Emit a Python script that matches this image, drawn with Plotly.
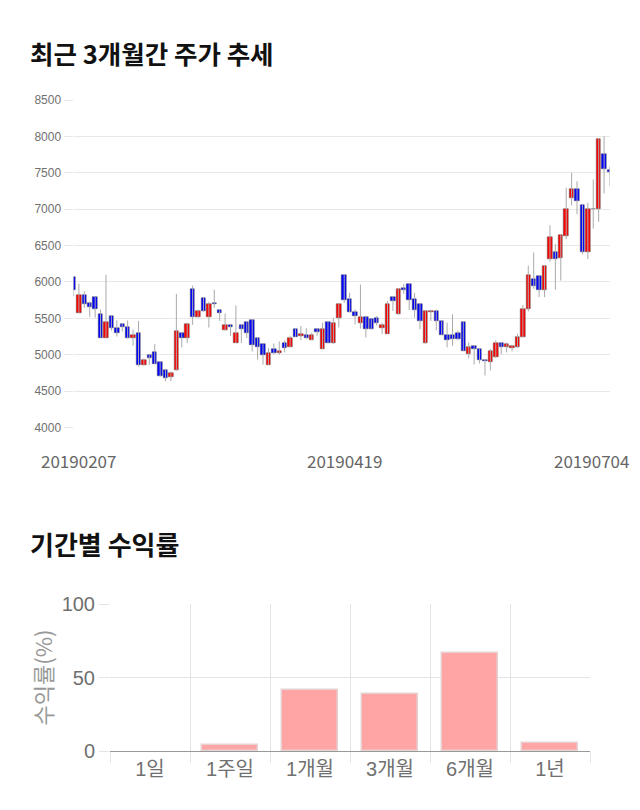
import plotly.graph_objects as go

# ---- candlestick data (index 0 = 20190207) ----
opens = [6070,5577,5814,5705,5795,5564,5236,5536,5373,5418,5382,5236,5305,4855,4995,5041,4905,4791,4700,4791,
         5305,5227,5905,5523,5782,5523,5705,5618,5336,5409,5164,5409,5455,5473,5236,5141,4864,5073,5027,5168,
         5109,5359,5255,5268,5205,5359,5077,5455,5155,5509,6100,5759,5586,5441,5518,5486,5509,5373,5291,5795,
         5555,5918,5973,5759,5700,5155,5591,5600,5464,5268,5268,5295,5455,5009,5118,5073,4932,4895,4964,5159,
         5109,5086,5100,5244,5622,6041,6078,5891,6315,6406,6324,6634,7148,7280,7053,6406,6998,6998,7763,7545]
highs = [6070,5977,5873,5730,5800,5620,6100,5536,5470,5430,5470,5345,5464,4950,5000,5145,4910,4800,4770,5836,
         5305,5440,5950,5620,5790,5727,5895,5620,5564,5415,5677,5410,5460,5480,5240,5145,5091,5155,5182,5200,
         5259,5360,5395,5364,5305,5365,5441,5460,5509,5700,6100,5850,5623,5964,5520,5490,5532,5441,5736,5800,
         5910,5973,5975,5850,5700,5610,5618,5618,5470,5441,5555,5330,5460,5168,5130,5080,4935,5077,5200,5160,
         5168,5130,5290,5686,6224,6406,6080,6220,6779,6520,6650,7294,7499,7385,7055,7089,7408,7970,8000,7590]
lows = [5800,5570,5645,5520,5510,5236,5236,5330,5250,5320,5220,5125,4840,4850,4860,4870,4700,4636,4636,4780,
        5100,5160,5410,5510,5590,5373,5645,5464,5330,5260,5160,5160,5230,5045,4932,4864,4860,5005,5000,5032,
        5105,5245,5200,5220,5200,5259,5075,5160,5150,5373,5714,5580,5418,5359,5236,5345,5400,5282,5290,5600,
        5550,5836,5614,5509,5350,5150,5464,5336,5270,5100,5123,5200,5050,4950,4864,4880,4714,4782,4955,5009,
        5032,5045,5095,5240,5595,5905,5791,5791,6278,5895,6019,6588,7053,6930,6380,6315,6734,6825,7216,7317]
closes = [5890,5814,5700,5655,5632,5236,5445,5373,5305,5377,5236,5268,4855,4932,4960,4873,4714,4677,4750,5327,
          5223,5418,5523,5605,5600,5700,5691,5577,5409,5382,5295,5350,5305,5136,5109,5000,5018,5018,5045,5086,
          5236,5250,5291,5227,5268,5314,5350,5164,5441,5691,5750,5586,5532,5518,5350,5350,5441,5405,5700,5736,
          5905,5886,5750,5609,5464,5600,5605,5464,5273,5209,5218,5214,5055,5109,5077,4932,4909,5045,5159,5109,
          5145,5123,5245,5631,6096,5950,5891,6214,6611,6315,6643,7007,7280,7112,6406,6998,7005,7968,7554,7508]

date_tick_idx = [0, 50, 99]
date_tick_text = ["20190207", "20190419", "20190704"]
price_ticks = [4000, 4500, 5000, 5500, 6000, 6500, 7000, 7500, 8000, 8500]

# ---- returns data ----
periods = ["1일", "1주일", "1개월", "3개월", "6개월", "1년"]
returns = [0, 3.9, 41.5, 39.0, 67.0, 5.7]

idx = list(range(len(opens)))
body_base = [min(o, c) for o, c in zip(opens, closes)]
body_h = [abs(c - o) for o, c in zip(opens, closes)]
body_col = ["#ff0000" if c >= o else "#0000ff" for o, c in zip(opens, closes)]

wx, wy = [], []
for i, h, l in zip(idx, highs, lows):
    wx += [i, i, None]
    wy += [l, h, None]

fig = go.Figure()
fig.add_trace(go.Scatter(x=wx, y=wy, mode="lines", line=dict(color="#aaaaaa", width=1),
                         hoverinfo="skip", showlegend=False, xaxis="x", yaxis="y"))
fig.add_trace(go.Bar(x=idx, y=body_h, base=body_base, width=0.82,
                     marker=dict(color=body_col, line=dict(color="#555555", width=0.5)),
                     showlegend=False, xaxis="x", yaxis="y"))

fig.add_trace(go.Bar(x=periods, y=returns, width=0.7,
                     marker=dict(color="#ffa5a5",
                                 line=dict(color="#e6d2d2", width=[0 if v == 0 else 1.5 for v in returns])),
                     showlegend=False, xaxis="x2", yaxis="y2"))

W, Hh = 640, 810
fig.update_layout(
    width=W, height=Hh,
    margin=dict(l=0, r=0, t=0, b=0, autoexpand=False),
    paper_bgcolor="white", plot_bgcolor="white",
    showlegend=False,
    bargap=0,
    xaxis=dict(domain=[73.5 / W, 609.5 / W], range=[0, 99], showgrid=False, automargin=False,
               showticklabels=False, zeroline=False, showline=False, fixedrange=True),
    yaxis=dict(domain=[1 - 427.5 / Hh, 1 - 100 / Hh], range=[4000, 8500], tickvals=price_ticks,
               showgrid=True, gridcolor="#e8e8e8", gridwidth=1, zeroline=False, automargin=False,
               ticks="outside", ticklen=9, tickcolor="#e8e8e8",
               tickfont=dict(family="Liberation Sans, Arial", size=12, color="#707070"),
               anchor="x"),
    xaxis2=dict(domain=[110 / W, 590 / W], type="category", tickson="boundaries", automargin=False,
                showgrid=True, gridcolor="#e4e4e4", ticks="outside", ticklen=11, tickcolor="#e4e4e4",
                showline=True, linecolor="#999999", linewidth=1,
                tickfont=dict(family="Liberation Sans, Noto Sans CJK KR", size=20, color="#707070"),
                anchor="y2"),
    yaxis2=dict(domain=[1 - 751 / Hh, 1 - 604 / Hh], range=[0, 100], tickvals=[0, 50, 100],
                showgrid=True, gridcolor="#e4e4e4", zeroline=False, automargin=False,
                ticks="outside", ticklen=10, tickcolor="#e4e4e4",
                tickfont=dict(family="Liberation Sans, Arial", size=20, color="#707070"),
                title=dict(text="수익률(%)", standoff=2,
                           font=dict(family="Noto Sans CJK KR", size=22, color="#999999")),
                anchor="x2"),
)

# date labels
anchors = ["center", "center", "right"]
shifts = [5, 0, 21]
for v, t, a, s in zip(date_tick_idx, date_tick_text, anchors, shifts):
    fig.add_annotation(x=v, y=1 - 460 / Hh, xref="x", yref="paper", yanchor="middle", xanchor=a, xshift=s,
                       text=t, showarrow=False,
                       font=dict(family="Noto Sans CJK KR", size=17, color="#666666"))

fig.add_annotation(x=28 / W, y=1 - 52 / Hh, xref="paper", yref="paper", xanchor="left", yanchor="middle",
                   text="<b>최근 3개월간 주가 추세</b>", showarrow=False,
                   font=dict(family="Noto Sans CJK KR", size=25.5, color="#111111"))
fig.add_annotation(x=28 / W, y=1 - 543 / Hh, xref="paper", yref="paper", xanchor="left", yanchor="middle",
                   text="<b>기간별 수익률</b>", showarrow=False,
                   font=dict(family="Noto Sans CJK KR", size=26, color="#111111"))

fig.write_html("out.html")
